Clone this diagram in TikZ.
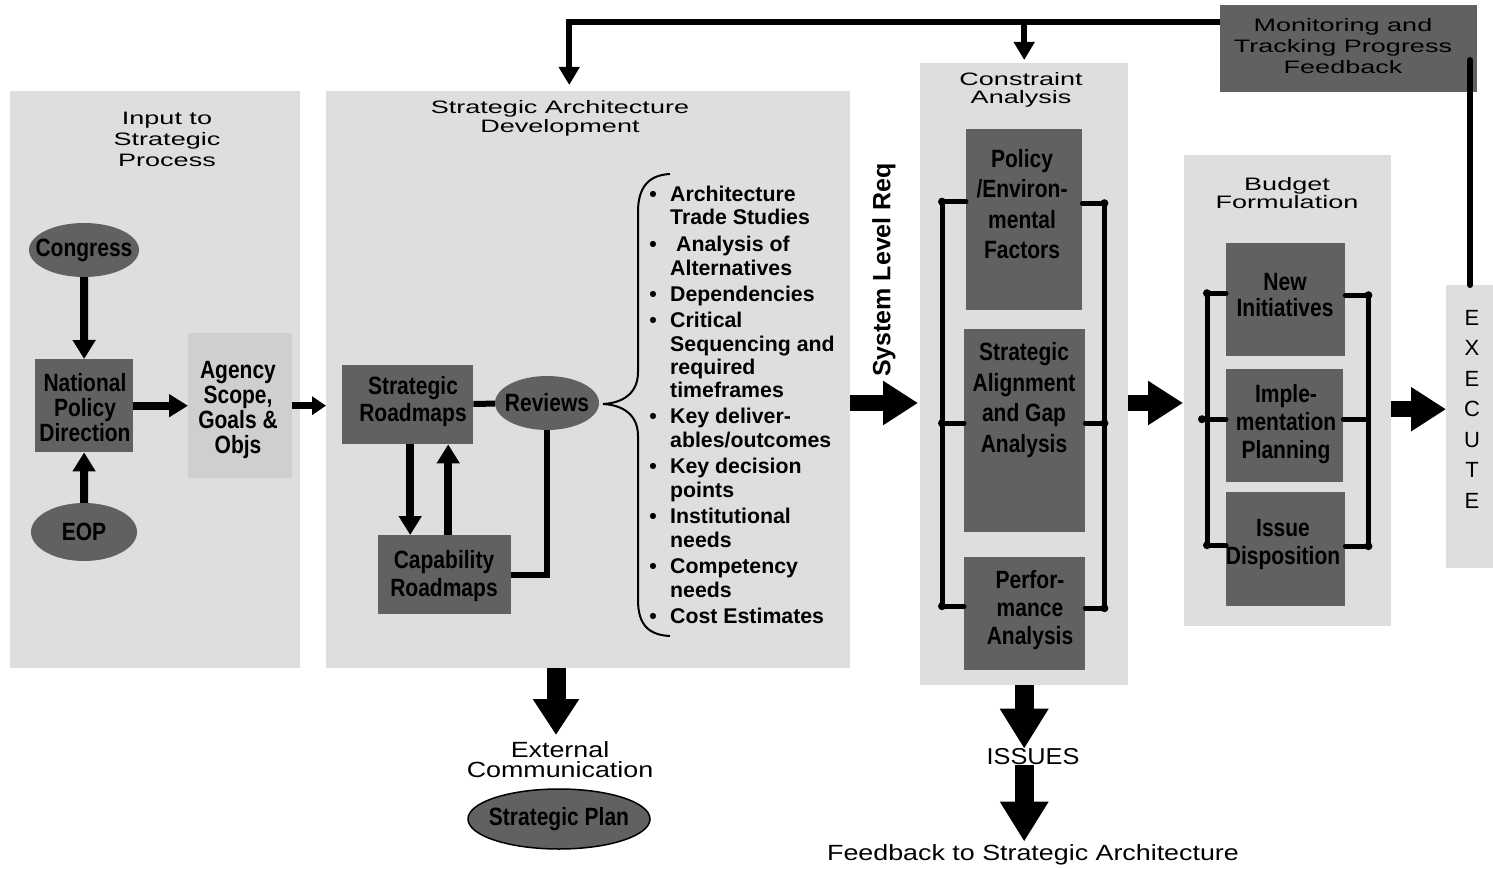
\documentclass[tikz,border=0pt]{standalone}
\usepackage{fontspec}
\setmainfont{Liberation Sans}
\newfontfamily\widef[FakeStretch=1.5]{Liberation Sans}
\newfontfamily\narrowf[FakeStretch=0.84]{Liberation Sans Bold}
\newfontfamily\plainf[FakeStretch=1.22]{Liberation Sans}
\newfontfamily\issf[FakeStretch=1.1]{Liberation Sans}
\usetikzlibrary{shapes.geometric,arrows.meta}
\definecolor{panel}{HTML}{DEDEDE}
\definecolor{dark}{HTML}{616161}
\definecolor{agcol}{HTML}{CFCFCF}
\newcommand\Lline[2]{\node[lst] at (670,#1+8) {#2};}
\newcommand\Lbul[1]{\node[lst,anchor=base] at (653,#1+8) {\textbullet};}
\begin{document}
\begin{tikzpicture}[x=1pt,y=-1pt,
  panelbox/.style={fill=panel,draw=none,inner sep=0pt,anchor=north west},
  darkbox/.style={fill=dark,draw=none,inner sep=0pt,anchor=north west},
  darkell/.style={ellipse,fill=dark,draw=none,inner ysep=0pt,inner xsep=-30pt,font=\narrowf\fontsize{25}{25}\selectfont},
  ntext/.style={align=center,inner sep=0pt,font=\narrowf\fontsize{25}{#1}\selectfont},
  ntext/.default=25,
  ttl/.style={align=center,inner sep=0pt,font=\widef\fontsize{18}{#1}\selectfont},
  ttl/.default=20,
  plain/.style={align=center,inner sep=0pt,font=\plainf\fontsize{22}{20}\selectfont},
  lst/.style={anchor=base west,inner sep=0pt,font=\bfseries\fontsize{21.3}{24}\selectfont},
  arr/.style={line width=8pt,-{Triangle[width=22pt,length=19pt]}},
  big/.style={line width=16pt,-{Triangle[width=42pt,length=35pt]}},
  down/.style={line width=19pt,-{Triangle[width=44pt,length=36pt]}},
  ln/.style={line width=6pt},
  brk/.style={line width=5pt,line join=round,line cap=round},
  dot/.style={circle,fill=black,inner sep=0pt,minimum size=8pt},
  fbarrow/.style={line width=6pt,-{Triangle[width=20pt,length=18pt]}}
]
\fill[white] (0,0) rectangle (1493,869);
\useasboundingbox (0,0) rectangle (1493,869);

% panels
\node[panelbox,minimum width=290pt,minimum height=577pt] (p1) at (10,91) {};
\node[panelbox,minimum width=524pt,minimum height=577pt] (p2) at (326,91) {};
\node[panelbox,minimum width=208pt,minimum height=622pt] (p3) at (920,63) {};
\node[panelbox,minimum width=207pt,minimum height=471pt] (p4) at (1184,155) {};
\node[panelbox,minimum width=47pt,minimum height=283pt] (ex) at (1446,285) {};
\node[darkbox,minimum width=257pt,minimum height=87pt] (mon) at (1220,5) {};

% titles
\node[ttl=21] (t1) at (167,139) {Input to\\Strategic\\Process};
\node[ttl=19] (t2) at (560,118) {Strategic Architecture\\Development};
\node[ttl=18] (t3) at (1021,90) {Constraint\\Analysis};
\node[ttl=16] (t4) at (1287,193) {Budget\\Formulation};
\node[ttl=21] (t5) at (1343,46) {Monitoring and\\Tracking Progress\\Feedback};
\node[inner sep=0pt,align=center,font=\fontsize{22}{30.5}\selectfont] (exT) at (1472,409) {E\\X\\E\\C\\U\\T\\E};

% panel 1 content
\node[darkell,minimum width=110pt,minimum height=54pt] (cong) at (84,250) {Congress};
\node[darkbox,minimum width=98pt,minimum height=93pt] (npd) at (35,359) {};
\node[ntext] (npdT) at (85,408) {National\\Policy\\Direction};
\node[darkell,minimum width=106pt,minimum height=58pt] (eop) at (84,532) {EOP};
\node[panelbox,fill=agcol,minimum width=104pt,minimum height=145pt] (ag) at (188,333) {};
\node[ntext] (agT) at (238,410) {Agency\\Scope,\\Goals \&\\Objs};
\draw[arr] (cong) -- (npd);
\draw[arr] (eop) -- (npd);
\draw[arr] (npd) -- (ag);
\draw[line width=7pt,-{Triangle[width=18pt,length=14pt]}] (ag.east) -- (p2.west |- ag.east);

% panel 2 content
\node[darkbox,minimum width=131pt,minimum height=79pt] (sr) at (342,365) {};
\node[ntext=27] (srT) at (413,402) {Strategic\\Roadmaps};
\node[darkbox,minimum width=133pt,minimum height=79pt] (cr) at (378,535) {};
\node[ntext=28] (crT) at (444,576) {Capability\\Roadmaps};
\node[darkell,minimum width=104pt,minimum height=54pt] (rev) at (547,403) {Reviews};
\draw[ln] (sr) -- (rev);
\draw[arr] ([xshift=2.5pt]sr.south) -- ([xshift=2.5pt]sr.south |- cr.north);
\draw[arr] ([xshift=3.5pt]cr.north) -- ([xshift=3.5pt]cr.north |- sr.south);
\draw[ln] (cr.east) -| (rev.south);
% brace
\draw[line width=2pt] (670,174) .. controls (648,175) and (638,188) .. (638,212) -- (638,372)
  .. controls (638,394) and (622,403) .. (603,404) .. controls (622,405) and (638,414) .. (638,436)
  -- (638,600) .. controls (638,624) and (648,635) .. (670,636);
% list
\Lbul{193}\Lline{193}{Architecture}
\Lline{217}{Trade Studies}
\Lbul{243}\Lline{243}{\ Analysis of}
\Lline{267}{Alternatives}
\Lbul{293}\Lline{293}{Dependencies}
\Lbul{319}\Lline{319}{Critical}
\Lline{343}{Sequencing and}
\Lline{366}{required}
\Lline{389}{timeframes}
\Lbul{415}\Lline{415}{Key deliver-}
\Lline{439}{ables/outcomes}
\Lbul{465}\Lline{465}{Key decision}
\Lline{489}{points}
\Lbul{515}\Lline{515}{Institutional}
\Lline{539}{needs}
\Lbul{565}\Lline{565}{Competency}
\Lline{589}{needs}
\Lbul{615}\Lline{615}{Cost Estimates}

% system level req
\node[rotate=90,inner sep=0pt,font=\bfseries\fontsize{25}{25}\selectfont] (slr) at (884,270) {System Level Req};
\draw[big,shorten >=2pt] (p2.east |- rev) -- (p3.west |- rev);

% panel 3 content
\node[darkbox,minimum width=116pt,minimum height=181pt] (pol) at (966,129) {};
\node[ntext=30.5] (polT) at (1022,204) {Policy\\/Environ-\\mental\\Factors};
\node[darkbox,minimum width=121pt,minimum height=203pt] (sag) at (964,329) {};
\node[ntext=30.5] (sagT) at (1024,400) {Strategic\\Alignment\\and Gap\\Analysis};
\node[darkbox,minimum width=121pt,minimum height=113pt] (perf) at (964,557) {};
\node[ntext=28] (perfT) at (1030,610) {Perfor-\\mance\\Analysis};
\draw[brk] ([yshift=18pt]pol.west) -| node[dot,pos=0.5]{} node[dot,pos=1]{} ([xshift=-22pt,yshift=7.5pt]perf.west) -- ([yshift=7.5pt]perf.west);
\draw[brk] ([xshift=-22pt,yshift=7.5pt]sag.west) node[dot]{} -- ([yshift=7.5pt]sag.west);
\draw[brk] ([yshift=16.5pt]pol.east) -| node[dot,pos=0.5]{} node[dot,pos=1]{} ([xshift=19pt,yshift=5.5pt]perf.east) -- ([yshift=5.5pt]perf.east);
\draw[brk] ([yshift=7.5pt]sag.east) -- ++(19,0) node[dot]{};
\draw[big,shorten >=1pt] (p3.east |- rev) -- (p4.west |- rev);

% panel 4 content
\node[darkbox,minimum width=119pt,minimum height=113pt] (ni) at (1226,243) {};
\node[ntext=26] (niT) at (1285,295) {New\\Initiatives};
\node[darkbox,minimum width=117pt,minimum height=113pt] (imp) at (1226,369) {};
\node[ntext=28] (impT) at (1286,424) {Imple-\\mentation\\Planning};
\node[darkbox,minimum width=119pt,minimum height=114pt] (iss) at (1226,492) {};
\node[ntext=28] (issT) at (1283,544) {Issue\\Disposition};
\draw[brk] ([yshift=6.5pt]ni.west) -| node[dot,pos=0.5]{} node[dot,pos=1]{} ([xshift=-19pt,yshift=4pt]iss.west) -- ([yshift=4pt]iss.west);
\draw[brk] ([xshift=-24pt,yshift=6.5pt]imp.west) node[dot]{} -- ([yshift=6.5pt]imp.west);
\draw[brk] ([yshift=4.5pt]ni.east) -| node[dot,pos=0.5]{} node[dot,pos=1]{} ([xshift=23pt,yshift=3pt]iss.east) -- ([yshift=3pt]iss.east);
\draw[brk] ([yshift=6.5pt]imp.east) -- ++(25,0);
\coordinate (exin) at ([yshift=17.5pt]ex.west);
\draw[big] (p4.east |- exin) -- (exin);

% feedback loop
\coordinate (fbstart) at ([yshift=26.5pt]mon.west);
\draw[fbarrow,shorten >=6pt] (fbstart) -| ([xshift=-19pt]p2.north);
\draw[fbarrow,shorten >=3pt] (p3.north |- fbstart) -- (p3.north);
\coordinate (monin) at (1470,60);
\draw[ln,line cap=round] (ex.north -| monin) -- (monin);

% bottom
\node[plain] (ext) at (560,760) {External\\Communication};
\coordinate (extin) at (556,735);
\draw[down] (p2.south -| extin) -- (extin);
\node[darkell,draw=black,line width=1.5pt,minimum width=182pt,minimum height=60pt] (sp) at (559,819) {Strategic Plan};
\node[plain,font=\issf\fontsize{23}{20}\selectfont] (issues) at (1033,757) {ISSUES};
\node[plain] (fbT) at (1033,855) {Feedback to Strategic Architecture};
\draw[down,-{Triangle[width=46pt,length=40pt]}] (p3.south) -- (p3.south |- issues.north);
\draw[down,-{Triangle[width=46pt,length=40pt]}] (p3.south |- issues.south) -- ([yshift=3pt]p3.south |- fbT.north);
\end{tikzpicture}
\end{document}
